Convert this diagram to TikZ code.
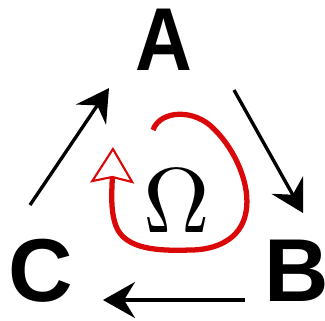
\documentclass[tikz,border=0pt]{standalone}
\usepackage{fontspec}
\setmainfont{Liberation Sans}
\usetikzlibrary{arrows.meta}
\definecolor{loopred}{RGB}{218,8,8}
\tikzset{
  letter/.style={inner sep=0pt, font=\fontsize{25.4}{30}\selectfont\bfseries},
  blackarrow/.style={line width=0.95pt, -{Stealth[length=3.2mm,width=3.6mm,inset=1.1mm]}},
  loopline/.style={loopred, line width=1.5pt, -{Stealth[open, length=3.6mm, width=4.4mm, inset=0.5mm, line width=0.6pt]}}
}
\begin{document}
\begin{tikzpicture}[x=0.01cm,y=-0.01cm]
\useasboundingbox (0,0) rectangle (325,320);
\node[letter, xscale=0.88] (A) at (164,39.5) {A};
\node[letter] (B) at (296.5,270.5) {B};
\node[letter] (C) at (40.5,271) {C};
\node[inner sep=0pt, scale=2.62] (O) at (177,201) {$\Omega$};
\coordinate (ca1) at (30,205);
\coordinate (ca2) at (109,88);
\coordinate (ab1) at (234,90);
\coordinate (ab2) at (303,213);
\coordinate (bc1) at (245,300);
\coordinate (bc2) at (103,300);
\draw[blackarrow] (ca1) -- (ca2);
\draw[blackarrow] (ab1) -- (ab2);
\draw[blackarrow] (bc1) -- (bc2);
\draw[loopline] (153,130) .. controls (160,110) and (195,108) .. (215,130)
  .. controls (235,150) and (251,185) .. (246,212)
  .. controls (241,240) and (215,250) .. (190,250)
  .. controls (160,251) and (125,250) .. (116,226)
  .. controls (110,210) and (112,190) .. (113,147);
\end{tikzpicture}
\end{document}
